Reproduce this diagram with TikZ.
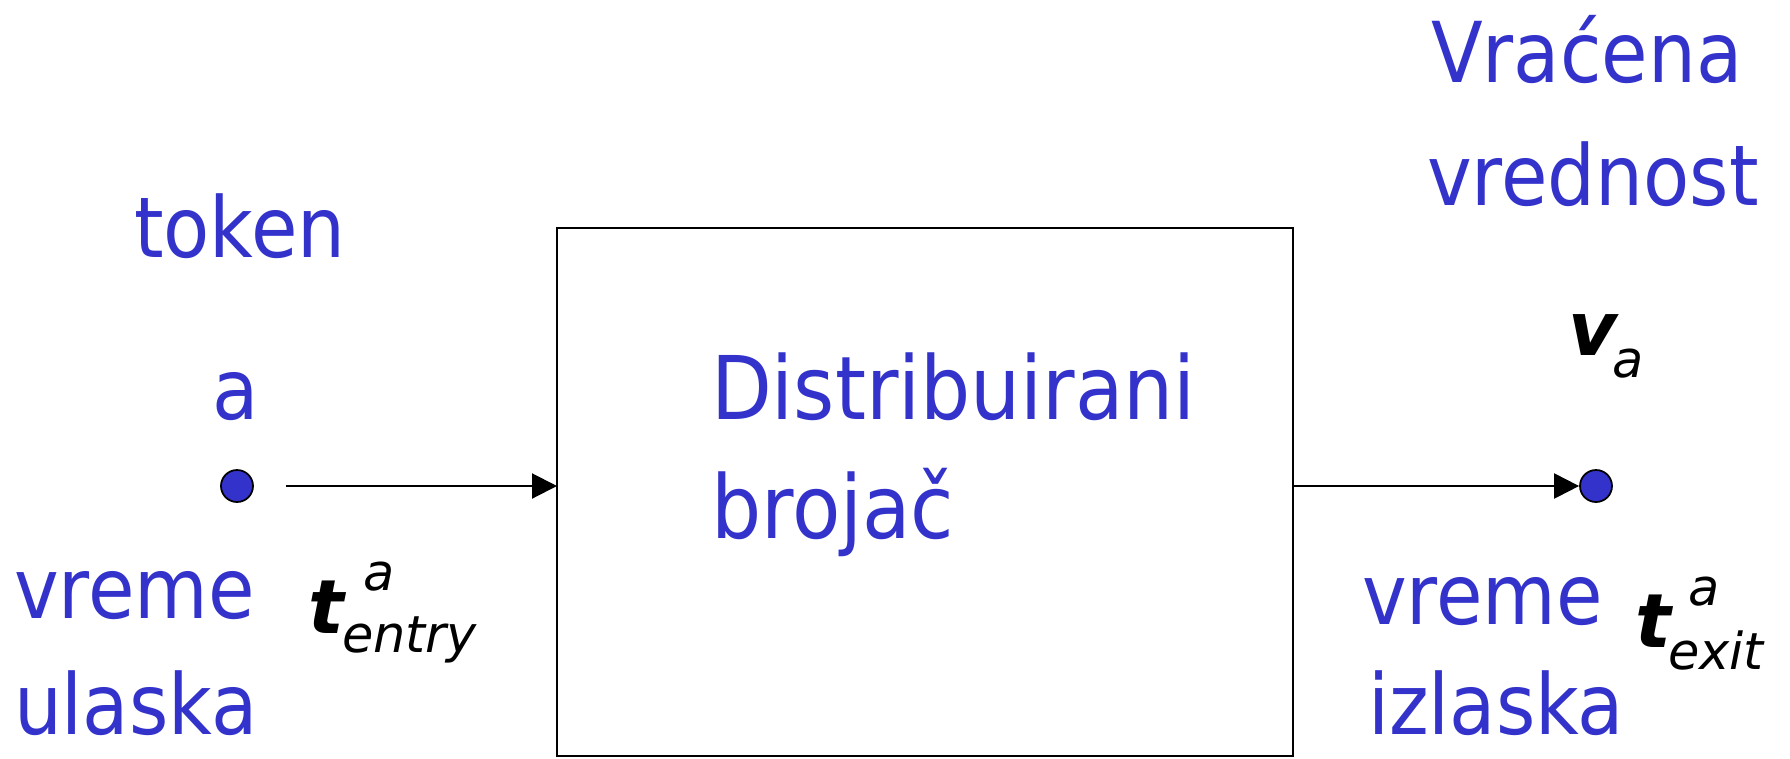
\documentclass[tikz,border=0pt]{standalone}
\usepackage{fontspec}
\usetikzlibrary{arrows.meta}
\newfontfamily\lblfont[FakeStretch=0.9]{DejaVu Sans}
\newfontfamily\mathfont{DejaVu Sans}
\definecolor{txtblue}{RGB}{51,51,204}
\tikzset{
  lbl/.style={anchor=base west, inner sep=0pt, outer sep=0pt, text=txtblue,
    font=\lblfont\fontsize{23.9pt}{28pt}\selectfont},
  boxtxt/.style={anchor=base west, inner sep=0pt, outer sep=0pt, text=txtblue,
    font=\lblfont\fontsize{25pt}{30pt}\selectfont},
  tvar/.style={anchor=base west, inner sep=0pt, outer sep=0pt, text=black,
    font=\mathfont\bfseries\itshape\fontsize{21.3pt}{25pt}\selectfont},
  tidx/.style={anchor=base west, inner sep=0pt, outer sep=0pt, text=black,
    font=\mathfont\itshape\fontsize{14.5pt}{17pt}\selectfont},
  dot/.style={circle, draw=black, fill=txtblue, line width=0.5pt, minimum size=3.2mm, inner sep=0pt},
  conn/.style={line width=0.6pt, -{Triangle[length=2.5mm,width=2.5mm]}},
  counter/.style={draw=black, line width=0.75pt, inner sep=0pt, outer sep=0pt}
}
\begin{document}
\begin{tikzpicture}[x=0.1mm, y=-0.1mm]
\useasboundingbox (0,0) rectangle (1790,758);
\node[counter, minimum width=73.6mm, minimum height=52.8mm, anchor=north west] (box) at (557,228) {};
\node[dot] (din) at (237,486) {};
\node[dot] (dout) at (1596,486) {};
\draw[conn, shorten <=3.2mm] (din) -- (box.west |- din);
\draw[conn] (box.east |- dout) -- (dout.west);
\node[lbl] (token) at (134,257) {token};
\node[lbl] (a) at (212,419) {a};
\node[lbl] (vremeL) at (14,618) {vreme};
\node[lbl] (ulaska) at (14,734) {ulaska};
\node[tvar] (tin) at (308,633) {t};
\node[tidx] (tinsup) at (363,590) {a};
\node[tidx] (tinsub) at (342,652) {entry};
\node[boxtxt] (dist) at (711,419) {Distribuirani};
\node[boxtxt] (broj) at (711,538) {brojač};
\node[lbl] (vracena) at (1431,82) {Vraćena};
\node[lbl] (vrednost) at (1427,205) {vrednost};
\node[tvar] (v) at (1568,355) {v};
\node[tidx] (vsub) at (1612,377) {a};
\node[lbl] (vremeR) at (1362,624) {vreme};
\node[lbl] (izlaska) at (1368,734) {izlaska};
\node[tvar] (tout) at (1635,647) {t};
\node[tidx] (toutsup) at (1688,605) {a};
\node[tidx] (toutsub) at (1668,669) {exit};
\end{tikzpicture}
\end{document}
